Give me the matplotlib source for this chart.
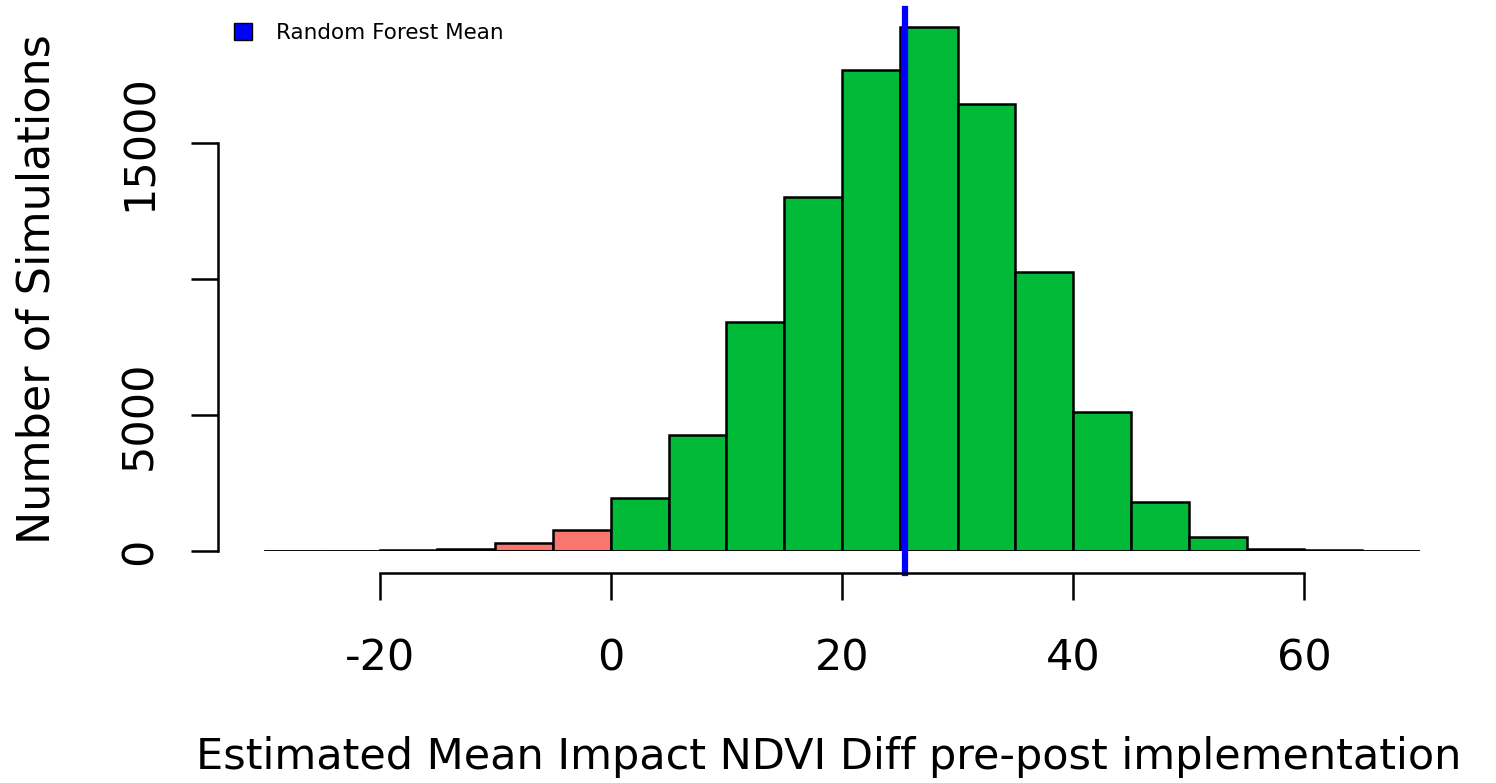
import matplotlib
matplotlib.use('Agg')
import matplotlib.pyplot as plt
from matplotlib.patches import Patch
import numpy as np

# histogram bins (width 5) and counts
bin_edges = [-30, -25, -20, -15, -10, -5, 0, 5, 10, 15, 20, 25, 30, 35, 40, 45, 50, 55, 60, 65, 70]
counts = [3, 5, 20, 70, 280, 772, 1950, 4265, 8420, 13015, 17690, 19270, 16430, 10260, 5110, 1800, 500, 80, 20, 5]
rf_mean = 25.45

x_ticks = [-20, 0, 20, 40, 60]
y_ticks = [0, 5000, 10000, 15000]
y_tick_labels = ['0', '5000', '', '15000']

W, H = 1496, 783
fig = plt.figure(figsize=(W / 100, H / 100), dpi=100)
ax = fig.add_axes([264 / W, 1 - 551 / H, (1420 - 264) / W, (551 - 7) / H])

left = np.array(bin_edges[:-1])
widths = np.diff(bin_edges)
colors = ['#F8766D' if l < 0 else '#00BA38' for l in left]
ax.bar(left, counts, width=widths, align='edge', color=colors,
       edgecolor='black', linewidth=1.8)
ax.plot([bin_edges[0], bin_edges[-1]], [0, 0], color='black', lw=1.8)

ax.axvline(rf_mean, ymin=-0.04, ymax=0.997, color='blue', lw=4.5, clip_on=False)

ax.set_xlim(bin_edges[0], bin_edges[-1])
ax.set_ylim(0, 20000)

for s in ['top', 'right']:
    ax.spines[s].set_visible(False)
ax.spines['bottom'].set_position(('outward', 15.8))
ax.spines['left'].set_position(('outward', 33))
ax.spines['bottom'].set_bounds(x_ticks[0], x_ticks[-1])
ax.spines['left'].set_bounds(y_ticks[0], y_ticks[-1])
ax.spines['bottom'].set_linewidth(1.8)
ax.spines['left'].set_linewidth(1.8)

ax.set_xticks(x_ticks)
ax.set_xticklabels([str(v) for v in x_ticks])
ax.set_yticks(y_ticks)
ax.set_yticklabels(y_tick_labels, rotation=90, va='center')
ax.tick_params(axis='both', length=19.4, width=1.8, labelsize=31)
ax.tick_params(axis='x', pad=27)
ax.tick_params(axis='y', pad=22)

fig.text(0.5 * (195 + 1462) / W, 1 - 757 / H,
         'Estimated Mean Impact NDVI Diff pre-post implementation',
         ha='center', va='center', fontsize=31)
fig.text(37 / W, 1 - 289 / H, 'Number of Simulations', rotation=90,
         ha='center', va='center', fontsize=32)

ax.legend(handles=[Patch(facecolor='blue', edgecolor='black', label='Random Forest Mean')],
          loc='upper left', bbox_to_anchor=(234 / W, 1 - 23 / H),
          bbox_transform=fig.transFigure, frameon=False, fontsize=15.5,
          handlelength=0.85, handleheight=0.85, handletextpad=1.1,
          borderaxespad=0, borderpad=0)

fig.savefig('out.png', dpi=100)
